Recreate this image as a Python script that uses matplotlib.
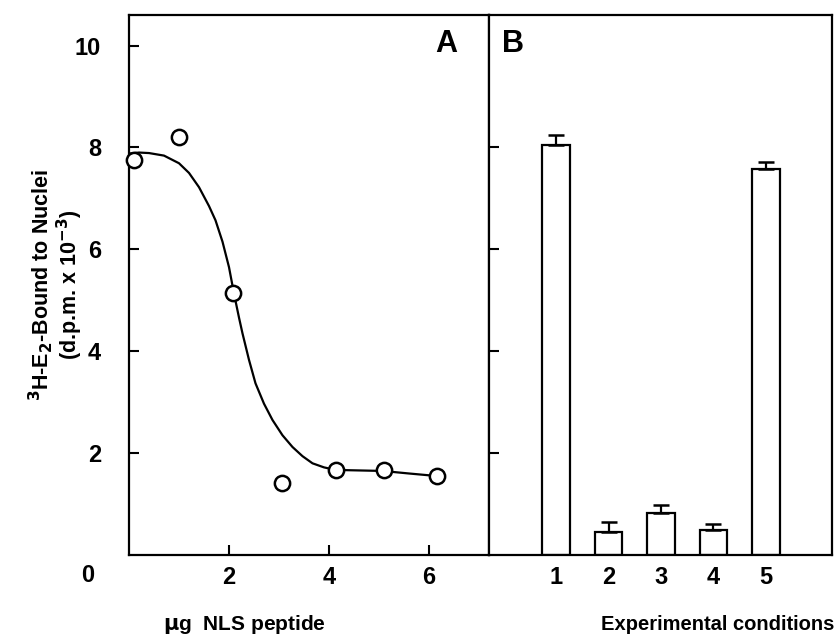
import matplotlib
matplotlib.use('Agg')
import matplotlib.pyplot as plt

plt.rcParams['font.family'] = ['Liberation Sans', 'DejaVu Sans']
plt.rcParams['mathtext.default'] = 'bf'

# Panel A: NLS peptide dose vs bound 3H-E2
peptide_ug = [0.1, 1.0, 2.08, 3.06, 4.14, 5.1, 6.16]
bound_a = [7.75, 8.2, 5.15, 1.41, 1.67, 1.67, 1.55]

# fitted curve
curve_x = [0.0, 0.2, 0.4, 0.7, 1.0, 1.2, 1.4, 1.6, 1.73, 1.87, 2.0, 2.1, 2.2, 2.27, 2.4,
           2.53, 2.7, 2.87, 3.07, 3.27, 3.47, 3.67, 3.9, 4.13, 4.6, 5.07, 5.6, 6.16]
curve_y = [7.88, 7.9, 7.89, 7.84, 7.69, 7.5, 7.22, 6.85, 6.57, 6.15, 5.65, 5.13, 4.66, 4.35, 3.83,
           3.37, 2.97, 2.65, 2.35, 2.12, 1.94, 1.80, 1.72, 1.67, 1.66, 1.65, 1.6, 1.55]

# Panel B: experimental conditions
conditions = [1, 2, 3, 4, 5]
bound_b = [8.04, 0.46, 0.83, 0.49, 7.57]
err_b = [0.2, 0.19, 0.16, 0.12, 0.14]

fig = plt.figure(figsize=(8.35, 6.44), dpi=100)
axA = fig.add_axes([0.1545, 0.1382, 0.4311, 0.8385])
axB = fig.add_axes([0.5856, 0.1382, 0.4108, 0.8385])

lw = 1.6
for ax in (axA, axB):
    for s in ax.spines.values():
        s.set_linewidth(lw)
    ax.set_ylim(0, 10.6)

# panel A
axA.plot(curve_x, curve_y, color='black', lw=1.6, zorder=2)
axA.plot(peptide_ug, bound_a, 'o', ms=11, mfc='white', mec='black', mew=1.8, zorder=3, clip_on=False)
axA.set_xlim(0, 7.2)
axA.set_xticks([2, 4, 6])
axA.set_xticklabels(['2', '4', '6'])
axA.set_yticks([2, 4, 6, 8, 10])
axA.tick_params(direction='in', length=7, width=1.5, labelsize=17)
axA.tick_params(axis='y', pad=20)
axA.tick_params(axis='x', pad=8)
for t in axA.get_xticklabels() + axA.get_yticklabels():
    t.set_fontweight('bold')
axA.text(0.88, 0.975, 'A', transform=axA.transAxes, fontsize=22, fontweight='bold', va='top', ha='center')

# panel B
axB.bar(conditions, bound_b, width=0.53, color='white', edgecolor='black', linewidth=1.6, zorder=2)
axB.errorbar(conditions, bound_b, yerr=[[0] * 5, err_b], fmt='none', ecolor='black',
             elinewidth=1.6, capsize=6, capthick=1.8, zorder=3)
axB.set_xlim(-0.28, 6.26)
axB.set_xticks(conditions)
axB.set_yticks([2, 4, 6, 8])
axB.set_yticklabels([])
axB.tick_params(axis='y', direction='in', length=7, width=1.5)
axB.tick_params(axis='x', length=0, labelsize=17, pad=8)
for t in axB.get_xticklabels():
    t.set_fontweight('bold')
axB.text(0.07, 0.975, 'B', transform=axB.transAxes, fontsize=22, fontweight='bold', va='top', ha='center')

# shared corner zero and labels
fig.text(88 / 835, 1 - 575 / 644, '0', fontsize=17, fontweight='bold', ha='center', va='center')
fig.text(244 / 835, 1 - 625 / 644, r'$\mu$g  NLS peptide', fontsize=15, fontweight='bold', ha='center', va='center')
fig.text(718 / 835, 1 - 625 / 644, 'Experimental conditions', fontsize=14.5, fontweight='bold', ha='center', va='center')
fig.text(56 / 835, 1 - 285 / 644, '$^3$H-E$_2$-Bound to Nuclei\n(d.p.m. x 10$^{-3}$)', fontsize=15.5,
         fontweight='bold', rotation=90, ha='center', va='center', multialignment='center', linespacing=1.0)

fig.savefig('out.png', dpi=100)
